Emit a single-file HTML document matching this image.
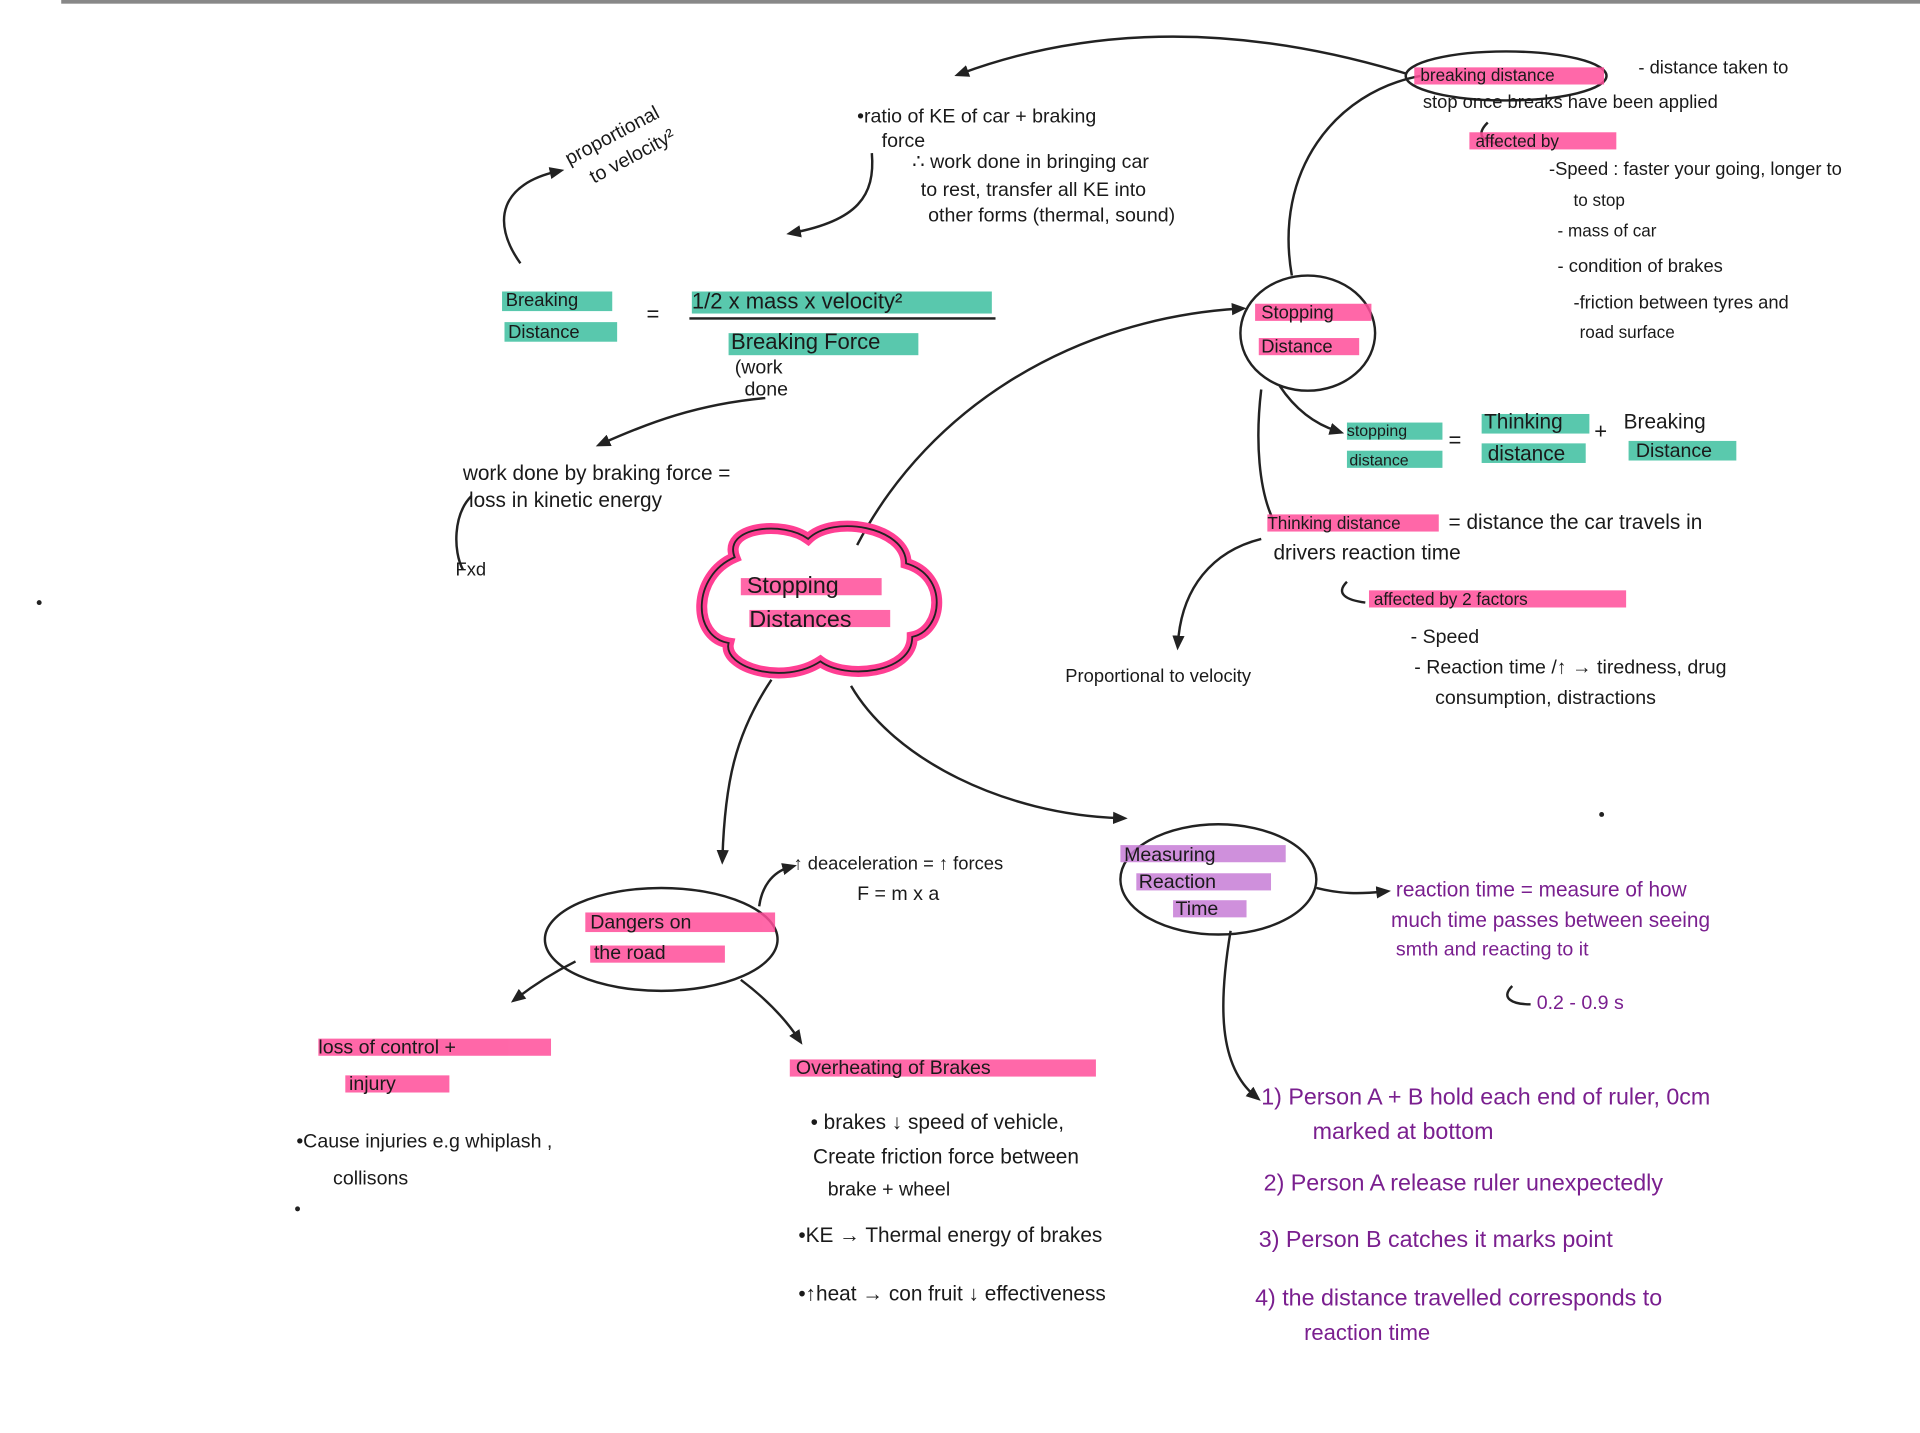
<!DOCTYPE html>
<html><head><meta charset="utf-8"><style>
html,body{margin:0;padding:0;background:#fff;}
svg{display:block;}
text{font-family:"Liberation Sans",sans-serif;fill:#1a1a1a;}
.p{fill:#7a1f8f;}
</style></head><body>
<svg width="1920" height="1433" viewBox="0 0 1568 1170" preserveAspectRatio="none" xmlns="http://www.w3.org/2000/svg">
<defs><marker id="a" markerUnits="userSpaceOnUse" markerWidth="12" markerHeight="12" refX="6" refY="6" orient="auto"><path d="M0,1 L12,6 L0,11 z" fill="#222"/></marker></defs>
<rect width="1568" height="1170" fill="#fff"/>
<rect x="50" y="0" width="1518" height="3" fill="#888"/>
<g fill="none" stroke="#222" stroke-width="2">
<path d="M1148,60 C1000,15 880,25 785,60" marker-end="url(#a)"/>
<path d="M1055,225 C1040,140 1090,75 1160,62"/>
<path d="M700,445 C760,330 880,260 1012,252" marker-end="url(#a)"/>
<path d="M1045,315 C1055,330 1070,345 1092,352" marker-end="url(#a)"/>
<path d="M1030,318 C1025,360 1028,400 1040,425"/>
<path d="M1030,440 C990,450 965,480 962,525" marker-end="url(#a)"/>
<path d="M425,215 C400,180 410,150 455,140" marker-end="url(#a)"/>
<path d="M712,125 C715,160 700,180 648,190" marker-end="url(#a)"/>
<path d="M625,325 C570,330 530,345 492,362" marker-end="url(#a)"/>
<path d="M385,405 C370,420 370,450 378,465"/>
<path d="M630,555 C600,600 592,640 590,700" marker-end="url(#a)"/>
<path d="M695,560 C730,620 820,665 915,668" marker-end="url(#a)"/>
<path d="M620,740 C622,725 630,712 645,708" marker-end="url(#a)"/>
<path d="M470,785 C450,795 435,805 422,815" marker-end="url(#a)"/>
<path d="M605,800 C625,815 640,830 652,848" marker-end="url(#a)"/>
<path d="M1075,725 C1095,730 1110,730 1130,728" marker-end="url(#a)"/>
<path d="M1005,760 C995,820 995,870 1025,895" marker-end="url(#a)"/>
<path d="M1215,100 C1205,110 1210,115 1225,118"/>
<path d="M1100,475 C1090,485 1100,490 1115,492"/>
<path d="M1235,805 C1225,815 1235,820 1250,820"/>
</g>
<path d="M600,455 C590,430 640,425 660,440 C680,420 740,430 740,460 C775,470 770,515 745,520 C745,550 690,555 670,540 C640,560 590,545 595,525 C565,520 565,470 600,455 z" fill="none" stroke="#ff3f93" stroke-width="9"/>
<path d="M600,455 C590,430 640,425 660,440 C680,420 740,430 740,460 C775,470 770,515 745,520 C745,550 690,555 670,540 C640,560 590,545 595,525 C565,520 565,470 600,455 z" fill="none" stroke="#222" stroke-width="1.5"/>
<ellipse cx="1068" cy="272" rx="55" ry="47" fill="none" stroke="#222" stroke-width="2"/>
<ellipse cx="1230" cy="62" rx="82" ry="20" fill="none" stroke="#222" stroke-width="2"/>
<ellipse cx="540" cy="767" rx="95" ry="42" fill="none" stroke="#222" stroke-width="2"/>
<ellipse cx="995" cy="718" rx="80" ry="45" fill="none" stroke="#222" stroke-width="2"/>
<g fill="#ff4d9a" opacity="0.85">
<rect x="605" y="472" width="115" height="14"/><rect x="612" y="498" width="115" height="14"/>
<rect x="1025" y="248" width="95" height="14"/><rect x="1028" y="276" width="82" height="14"/>
<rect x="1155" y="55" width="155" height="14"/><rect x="1200" y="108" width="120" height="14"/>
<rect x="1035" y="420" width="140" height="14"/><rect x="1118" y="482" width="210" height="14"/>
<rect x="478" y="745" width="155" height="16"/><rect x="482" y="772" width="110" height="14"/>
<rect x="260" y="848" width="190" height="14"/><rect x="282" y="878" width="85" height="14"/>
<rect x="645" y="865" width="250" height="14"/>
</g>
<g fill="#3dbf9f" opacity="0.85">
<rect x="410" y="238" width="90" height="16"/><rect x="412" y="263" width="92" height="16"/>
<rect x="565" y="238" width="245" height="18"/><rect x="595" y="272" width="155" height="18"/>
<rect x="1100" y="345" width="78" height="14"/><rect x="1100" y="368" width="78" height="14"/>
<rect x="1210" y="338" width="88" height="16"/><rect x="1210" y="362" width="85" height="16"/>
<rect x="1330" y="360" width="88" height="16"/>
</g>
<g fill="#c77dd6" opacity="0.85">
<rect x="915" y="690" width="135" height="14"/><rect x="928" y="713" width="110" height="14"/><rect x="958" y="735" width="60" height="14"/>
</g>
<text x="610" y="484" font-size="19">Stopping</text>
<text x="612" y="512" font-size="19">Distances</text>
<text x="1030" y="260" font-size="15">Stopping</text>
<text x="1030" y="288" font-size="15">Distance</text>
<text x="1160" y="66" font-size="14">breaking distance</text>
<text x="1338" y="60" font-size="15">- distance taken to</text>
<text x="1162" y="88" font-size="15">stop once breaks have been applied</text>
<text x="1205" y="120" font-size="14">affected by</text>
<text x="1265" y="143" font-size="15">-Speed : faster your going, longer to</text>
<text x="1285" y="168" font-size="14">to stop</text>
<text x="1272" y="193" font-size="14">- mass of car</text>
<text x="1272" y="222" font-size="15">- condition of brakes</text>
<text x="1285" y="252" font-size="15">-friction between tyres and</text>
<text x="1290" y="276" font-size="14">road surface</text>
<text x="700" y="100" font-size="16">•ratio of KE of car + braking</text>
<text x="720" y="120" font-size="16">force</text>
<text x="745" y="137" font-size="16">∴ work done in bringing car</text>
<text x="752" y="160" font-size="16">to rest, transfer all KE into</text>
<text x="758" y="181" font-size="16">other forms (thermal, sound)</text>
<text x="465" y="135" font-size="16" transform="rotate(-28 465 135)">proportional</text>
<text x="485" y="150" font-size="16" transform="rotate(-28 485 150)">to velocity²</text>
<text x="413" y="250" font-size="15">Breaking</text>
<text x="415" y="276" font-size="15">Distance</text>
<text x="528" y="262" font-size="18">=</text>
<text x="565" y="252" font-size="18">1/2 x mass x velocity²</text>
<rect x="563" y="259" width="250" height="2" fill="#222"/>
<text x="597" y="285" font-size="18">Breaking Force</text>
<text x="600" y="305" font-size="16">(work</text>
<text x="608" y="323" font-size="16">done</text>
<text x="378" y="392" font-size="17">work done by braking force =</text>
<text x="383" y="414" font-size="17">loss in kinetic energy</text>
<text x="372" y="470" font-size="15">Fxd</text>
<text x="1100" y="356" font-size="13">stopping</text>
<text x="1102" y="380" font-size="13">distance</text>
<text x="1183" y="365" font-size="18">=</text>
<text x="1212" y="350" font-size="17">Thinking</text>
<text x="1215" y="376" font-size="17">distance</text>
<text x="1302" y="358" font-size="18">+</text>
<text x="1326" y="350" font-size="17">Breaking</text>
<text x="1336" y="373" font-size="16">Distance</text>
<text x="1035" y="432" font-size="14">Thinking distance</text>
<text x="1183" y="432" font-size="17">= distance the car travels in</text>
<text x="1040" y="457" font-size="17">drivers reaction time</text>
<text x="1122" y="494" font-size="14">affected by 2 factors</text>
<text x="1152" y="525" font-size="16">- Speed</text>
<text x="1155" y="550" font-size="16">- Reaction time /↑ → tiredness, drug</text>
<text x="1172" y="575" font-size="16">consumption, distractions</text>
<text x="870" y="557" font-size="15">Proportional to velocity</text>
<text x="482" y="758" font-size="16">Dangers on</text>
<text x="485" y="783" font-size="16">the road</text>
<text x="648" y="710" font-size="15">↑ deaceleration = ↑ forces</text>
<text x="700" y="735" font-size="16">F = m x a</text>
<text x="918" y="703" font-size="16">Measuring</text>
<text x="930" y="725" font-size="16">Reaction</text>
<text x="960" y="747" font-size="16">Time</text>
<text class="p" x="1140" y="732" font-size="17">reaction time = measure of how</text>
<text class="p" x="1136" y="757" font-size="17">much time passes between seeing</text>
<text class="p" x="1140" y="780" font-size="16">smth and reacting to it</text>
<text class="p" x="1255" y="824" font-size="16">0.2 - 0.9 s</text>
<text x="260" y="860" font-size="16">loss of control +</text>
<text x="285" y="890" font-size="16">injury</text>
<text x="242" y="937" font-size="16">•Cause injuries e.g whiplash ,</text>
<text x="272" y="967" font-size="16">collisons</text>
<text x="650" y="877" font-size="16">Overheating of Brakes</text>
<text x="662" y="922" font-size="17">• brakes ↓ speed of vehicle,</text>
<text x="664" y="950" font-size="17">Create friction force between</text>
<text x="676" y="976" font-size="16">brake + wheel</text>
<text x="652" y="1014" font-size="17">•KE → Thermal energy of brakes</text>
<text x="652" y="1062" font-size="17">•↑heat → con fruit ↓ effectiveness</text>
<text class="p" x="1030" y="902" font-size="19">1) Person A + B hold each end of ruler, 0cm</text>
<text class="p" x="1072" y="930" font-size="19">marked at bottom</text>
<text class="p" x="1032" y="972" font-size="19">2) Person A release ruler unexpectedly</text>
<text class="p" x="1028" y="1018" font-size="19">3) Person B catches it marks point</text>
<text class="p" x="1025" y="1066" font-size="19">4) the distance travelled corresponds to</text>
<text class="p" x="1065" y="1094" font-size="18">reaction time</text>
<circle cx="32" cy="492" r="2" fill="#222"/><circle cx="243" cy="987" r="2" fill="#222"/><circle cx="1308" cy="665" r="2" fill="#222"/>
</svg>
</body></html>
